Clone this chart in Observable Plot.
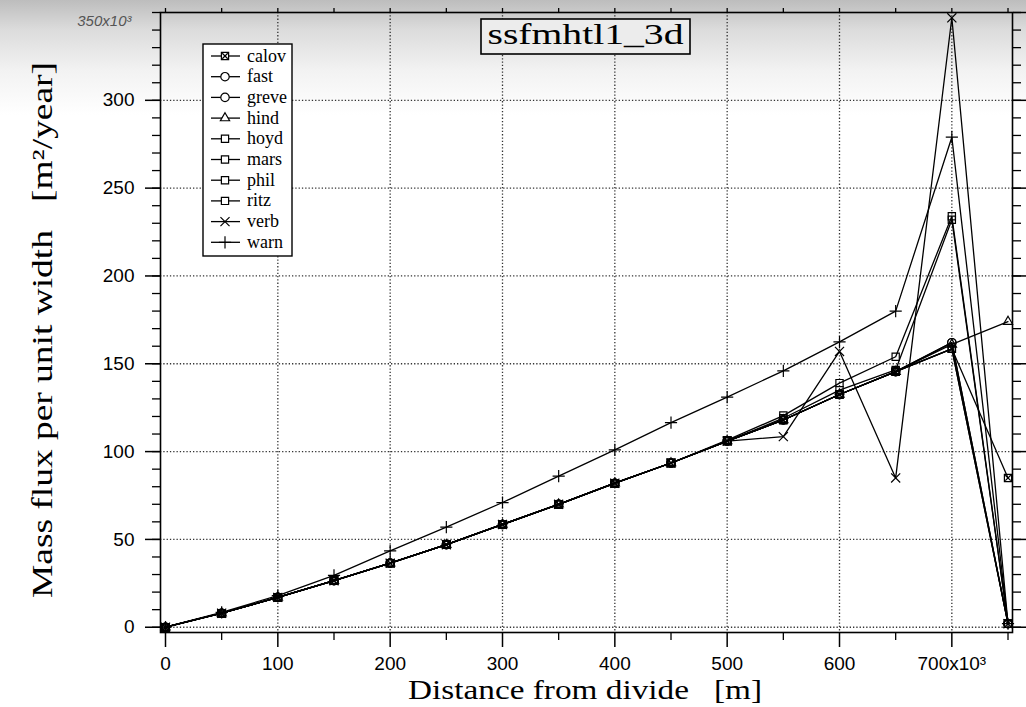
<!DOCTYPE html>
<html><head><meta charset="utf-8">
<script src="https://cdn.jsdelivr.net/npm/d3@7"></script>
<script src="https://cdn.jsdelivr.net/npm/@observablehq/plot@0.6"></script>
<style>
html,body{margin:0;padding:0;}
body{width:1026px;height:707px;overflow:hidden;background:linear-gradient(to bottom,#bdbdbd 0px,#dcdcdc 30px,#f2f2f2 70px,#ffffff 115px);}
#chart{position:relative;width:1026px;height:707px;}
</style></head><body><div id="chart"></div>
<script>
// ---- data (distance ×10^3 m, flux ×10^3 m²/year) ----
const distance = [0, 50, 100, 150, 200, 250, 300, 350, 400, 450, 500, 550, 600, 650, 700, 750];
const calov = [0, 8, 17, 26.5, 36.5, 47, 58.5, 70, 82, 93.5, 106, 118, 132.5, 145.5, 158.5, 85];
const fast  = [0, 8, 17, 26.5, 36.5, 47, 58.5, 70, 82, 93.5, 106, 118, 132.5, 145.5, 162, 2];
const greve = [0, 8, 17, 26.5, 36.5, 47, 58.5, 70, 82, 93.5, 106, 118, 132.5, 145.5, 162, 2];
const hind  = [0, 8, 17, 26.5, 36.5, 47, 58.5, 70, 82, 93.5, 106, 118, 132.5, 145.5, 161, 174];
const hoyd  = [0, 8, 17, 26.5, 36.5, 47, 58.5, 70, 82, 93.5, 106.5, 120.5, 139, 154, 234, 2];
const mars  = [0, 8, 17, 26.5, 36.5, 47, 58.5, 70, 82, 93.5, 106, 119, 135, 146.5, 232, 2];
const phil  = [0, 8, 17, 26.5, 36.5, 47, 58.5, 70, 82, 93.5, 106, 118, 132.5, 145.5, 158.5, 2];
const ritz  = [0, 8, 17, 26.5, 36.5, 47, 58.5, 70, 82, 93.5, 106, 118, 132.5, 145.5, 158.5, 2];
const verb  = [0, 8, 17, 26.5, 36.5, 47, 58.5, 70, 82, 93.5, 106, 108.5, 157, 85, 347, 2];
const warn  = [0, 8.5, 18, 29.5, 43.5, 57, 71, 86, 101, 116.5, 131, 146, 162.5, 180, 279, 2];

const seriesNames = ["calov", "fast", "greve", "hind", "hoyd", "mars", "phil", "ritz", "verb", "warn"];
const seriesValues = [calov, fast, greve, hind, hoyd, mars, phil, ritz, verb, warn];
const seriesSymbols = ["square", "circle", "circle", "triangle", "square", "square", "square", "square", "times", "plus"];

const xMajorTicks = [0, 100, 200, 300, 400, 500, 600, 700];
const yMajorTicks = [0, 50, 100, 150, 200, 250, 300];
const titleText = "ssfmhtl1_3d";
const xTitle = "Distance from divide   [m]";
const yTitle = "Mass flux per unit width   [m\u00B2/year]";

// ---- build table ----
const rows = seriesNames.flatMap((name, s) =>
  distance.map((d, i) => ({series: name, x: d, y: seriesValues[s][i], symbol: seriesSymbols[s]})));

const dotOpts = {x: "x", y: "y", stroke: "black", fill: "none", strokeWidth: 1.2};
const symR = {square: 4.6, circle: 4.2, triangle: 4.4, times: 4.2, plus: 4.0};

const fmtX = d => d === 700 ? "700x10\u00B3" : String(d);

const plot = Plot.plot({
  width: 1026, height: 707,
  marginLeft: 160, marginRight: 14, marginTop: 12, marginBottom: 75,
  x: {domain: [-4.45, 754], label: null},
  y: {domain: [-3, 350], label: null},
  style: {background: "transparent", fontFamily: "'Liberation Sans', Arial, sans-serif", fontSize: "19px", color: "black"},
  marks: [
    Plot.gridY(yMajorTicks, {stroke: "#111", strokeOpacity: 0.85, strokeWidth: 1.3, strokeDasharray: "1.3,2"}),
    Plot.gridX(xMajorTicks.filter(d => d > 0), {stroke: "#111", strokeOpacity: 0.85, strokeWidth: 1.3, strokeDasharray: "1.3,2"}),
    // left axis
    Plot.axisY(yMajorTicks, {anchor: "left", tickSize: 15, tickPadding: 11, strokeWidth: 1.5, label: null}),
    Plot.axisY(d3.range(0, 351, 10), {anchor: "left", tickSize: 8, strokeWidth: 1.3, tickFormat: () => "", label: null}),
    Plot.text([350], {y: d => d, frameAnchor: "left", text: () => "350x10\u00B3", textAnchor: "end", dx: -29, dy: 9,
      fontStyle: "italic", fontSize: 15, fill: "#555"}),
    // right axis
    Plot.axisY(d3.range(0, 351, 50), {anchor: "right", tickSize: 14, strokeWidth: 1.5, tickFormat: () => "", label: null}),
    Plot.axisY(d3.range(0, 351, 10), {anchor: "right", tickSize: 8, strokeWidth: 1.3, tickFormat: () => "", label: null}),
    // bottom axis
    Plot.axisX(xMajorTicks, {anchor: "bottom", tickSize: 15, tickPadding: 9, strokeWidth: 1.5, tickFormat: fmtX, label: null}),
    Plot.axisX(d3.range(50, 751, 100), {anchor: "bottom", tickSize: 8, strokeWidth: 1.3, tickFormat: () => "", label: null}),
    // top axis
    Plot.axisX(d3.range(0, 751, 50), {anchor: "top", tickSize: 5, strokeWidth: 1.3, tickFormat: () => "", label: null}),
    Plot.frame({stroke: "black", strokeWidth: 1.6}),
    // data
    Plot.line(rows, {x: "x", y: "y", z: "series", stroke: "black", strokeWidth: 1.3}),
    ...["square", "circle", "triangle", "times", "plus"].map(sym =>
      Plot.dot(rows.filter(r => r.symbol === sym), {...dotOpts, symbol: sym === "square" ? "square2" : sym === "triangle" ? "triangle2" : sym, r: symR[sym]})),
    Plot.dot(rows.filter(r => r.series === "calov"), {...dotOpts, symbol: "times", r: 2.6})
  ]
});
document.getElementById("chart").appendChild(plot);

// ---- annotations: title box, legend, axis titles ----
const svg = d3.select(plot);
const serif = "'Liberation Serif', 'DejaVu Serif', serif";

// title box
svg.append("rect").attr("x", 481).attr("y", 19).attr("width", 209).attr("height", 35)
  .attr("fill", "#ececec").attr("stroke", "black").attr("stroke-width", 1.6);
svg.append("text").attr("x", 585.5).attr("y", 44).attr("text-anchor", "middle")
  .attr("font-family", serif).attr("font-size", 30)
  .attr("textLength", 196).attr("lengthAdjust", "spacingAndGlyphs").text(titleText);

// legend
const lg = svg.append("g");
lg.append("rect").attr("x", 203).attr("y", 44).attr("width", 89).attr("height", 212)
  .attr("fill", "white").attr("stroke", "black").attr("stroke-width", 1.4);
const symMap = {square: d3.symbolSquare2, circle: d3.symbolCircle, triangle: d3.symbolTriangle2, times: d3.symbolTimes, plus: d3.symbolPlus};
seriesNames.forEach((name, i) => {
  const yy = 56 + i * 20.7;
  const sym = seriesSymbols[i];
  const g = lg.append("g");
  g.append("line").attr("x1", 211).attr("x2", 240).attr("y1", yy).attr("y2", yy).attr("stroke", "black").attr("stroke-width", 1.3);
  const r = symR[sym];
  g.append("path").attr("transform", `translate(225,${yy})`)
    .attr("d", d3.symbol(symMap[sym], r * r * Math.PI)())
    .attr("fill", sym === "plus" || sym === "times" ? "none" : "white").attr("stroke", "black").attr("stroke-width", 1.2);
  if (name === "calov") {
    g.append("path").attr("transform", `translate(225,${yy})`)
      .attr("d", d3.symbol(d3.symbolTimes, 2.6 * 2.6 * Math.PI)()).attr("fill", "none").attr("stroke", "black").attr("stroke-width", 1.2);
  }
  g.append("text").attr("x", 247).attr("y", yy + 5.5).attr("text-anchor", "start")
    .attr("font-family", serif).attr("font-size", 18).text(name);
});

// axis titles
svg.append("text").attr("x", 585).attr("y", 699).attr("text-anchor", "middle")
  .attr("font-family", serif).attr("font-size", 28).style("white-space", "pre")
  .attr("textLength", 354).attr("lengthAdjust", "spacingAndGlyphs").text(xTitle);
svg.append("text").attr("transform", "translate(52,330) rotate(-90)").attr("text-anchor", "middle")
  .attr("font-family", serif).attr("font-size", 29).style("white-space", "pre")
  .attr("textLength", 536).attr("lengthAdjust", "spacingAndGlyphs").text(yTitle);
</script></body></html>
